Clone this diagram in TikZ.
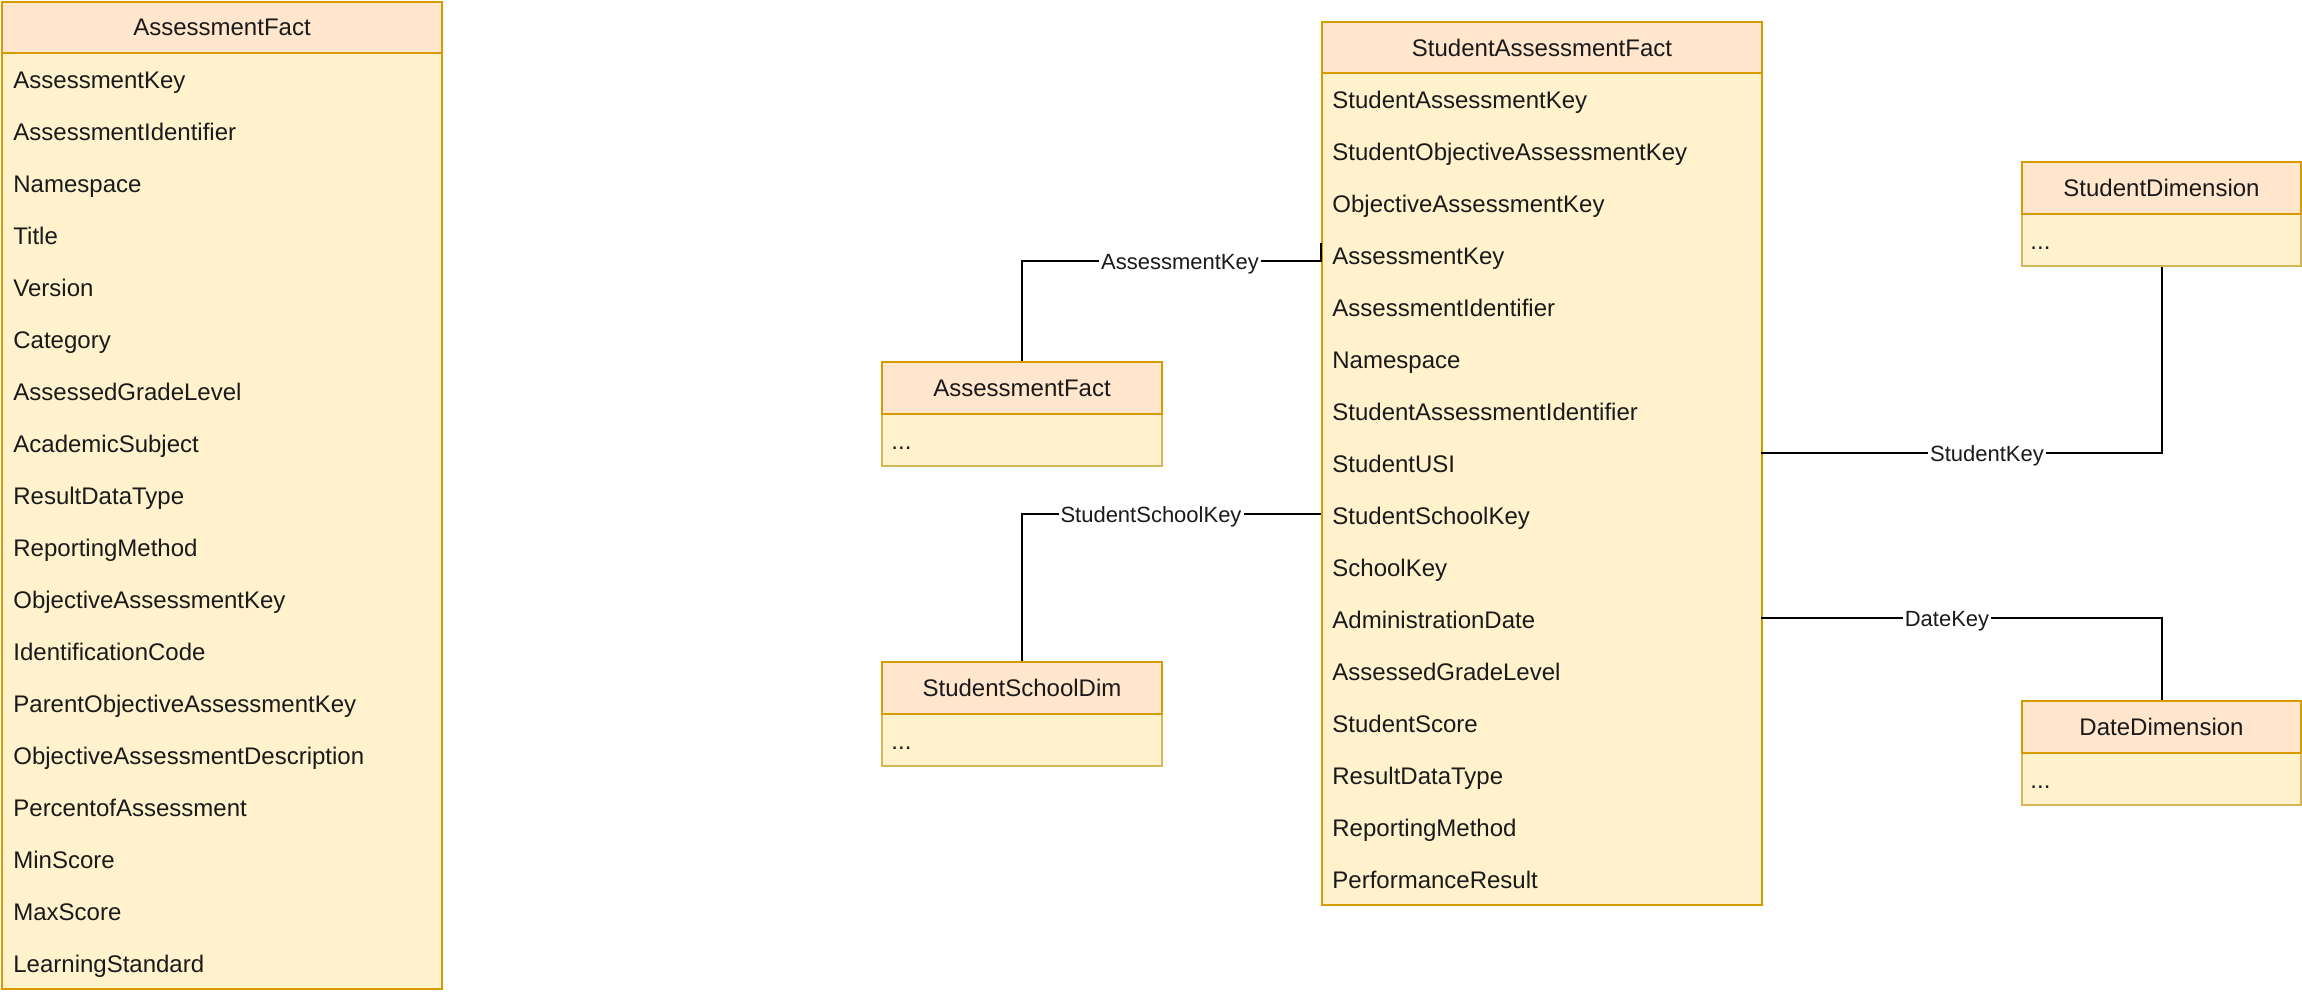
\documentclass[tikz,border=0pt]{standalone}
\usepackage{fontspec}
\setmainfont{Liberation Sans}
\definecolor{hdrfill}{HTML}{FFE6CC}
\definecolor{hdrline}{HTML}{D79B00}
\definecolor{bodyfill}{HTML}{FFF2CC}
\definecolor{bodyline}{HTML}{D6B656}
\definecolor{txt}{HTML}{1A1A1A}
\begin{document}
\begin{tikzpicture}[x=0.5pt,y=-0.5pt,
  box/.style={draw, line width=1pt, inner sep=0pt, anchor=north west, rectangle},
  hdr/.style={box, fill=hdrfill, draw=hdrline, text=txt, font=\fontsize{12pt}{14pt}\selectfont},
  body/.style={box, fill=bodyfill},
  row/.style={anchor=base west, inner sep=0pt, font=\fontsize{12pt}{14pt}\selectfont, text=txt},
  lbl/.style={fill=white, inner sep=1pt, text height=8pt, text depth=0pt, font=\fontsize{11pt}{13pt}\selectfont, text=txt},
  conn/.style={draw=black, line width=1pt}]
\useasboundingbox (0,0) rectangle (2302,996);

% ---- Left big table: AssessmentFact ----
\node[body, draw=hdrline, minimum width=220pt, minimum height=468pt] (afbody) at (1,52) {};
\node[hdr, minimum width=220pt, minimum height=25.5pt] (afhead) at (1,1) {AssessmentFact};
\foreach \t [count=\i from 0] in {AssessmentKey, AssessmentIdentifier, Namespace, Title, Version, Category, AssessedGradeLevel, AcademicSubject, ResultDataType, ReportingMethod, ObjectiveAssessmentKey, IdentificationCode, ParentObjectiveAssessmentKey, ObjectiveAssessmentDescription, PercentofAssessment, MinScore, MaxScore, LearningStandard}
  \node[row] (af-\i) at (13,{88+52*\i}) {\t};

% ---- StudentAssessmentFact ----
\node[body, draw=hdrline, minimum width=220pt, minimum height=416pt] (safbody) at (1321,72) {};
\node[hdr, minimum width=220pt, minimum height=25.5pt] (safhead) at (1321,21) {StudentAssessmentFact};
\foreach \t [count=\i from 0] in {StudentAssessmentKey, StudentObjectiveAssessmentKey, ObjectiveAssessmentKey, AssessmentKey, AssessmentIdentifier, Namespace, StudentAssessmentIdentifier, StudentUSI, StudentSchoolKey, SchoolKey, AdministrationDate, AssessedGradeLevel, StudentScore, ResultDataType, ReportingMethod, PerformanceResult}
  \node[row] (saf-\i) at (1332,{108+52*\i}) {\t};

% ---- small AssessmentFact ----
\node[body, draw=bodyline, minimum width=140pt, minimum height=26pt] (afsb) at (881,413) {};
\node[hdr, minimum width=140pt, minimum height=26pt] (afsh) at (881,361) {AssessmentFact};
\node[row] (afsd) at (891,449) {...};

% ---- StudentSchoolDim ----
\node[body, draw=bodyline, minimum width=140pt, minimum height=26pt] (ssdb) at (881,713) {};
\node[hdr, minimum width=140pt, minimum height=26pt] (ssdh) at (881,661) {StudentSchoolDim};
\node[row] (ssdd) at (891,749) {...};

% ---- StudentDimension ----
\node[body, draw=bodyline, minimum width=139.5pt, minimum height=26pt] (sdb) at (2021,213) {};
\node[hdr, minimum width=139.5pt, minimum height=26pt] (sdh) at (2021,161) {StudentDimension};
\node[row] (sdd) at (2030,249) {...};

% ---- DateDimension ----
\node[body, draw=bodyline, minimum width=139.5pt, minimum height=26pt] (ddb) at (2021,752) {};
\node[hdr, minimum width=139.5pt, minimum height=26pt] (ddh) at (2021,700) {DateDimension};
\node[row] (ddd) at (2030,788) {...};

% ---- connectors ----
\coordinate (akend) at (1321,261);
\draw[conn] (afsh.north) |- (akend) -- ++(0,-18);
\node[lbl] (aklbl) at (1180,261) {AssessmentKey};

\coordinate (sskend) at (1321,514);
\draw[conn] (ssdh.north) |- (sskend);
\node[lbl] (ssklbl) at (1151,514) {StudentSchoolKey};

\coordinate (skstart) at (1761,453);
\draw[conn] (skstart) -| (sdb.south);
\node[lbl] (sklbl) at (1987,453) {StudentKey};

\coordinate (dkstart) at (1761,618);
\draw[conn] (dkstart) -| (ddh.north);
\node[lbl] (dklbl) at (1947,618) {DateKey};
\end{tikzpicture}
\end{document}
